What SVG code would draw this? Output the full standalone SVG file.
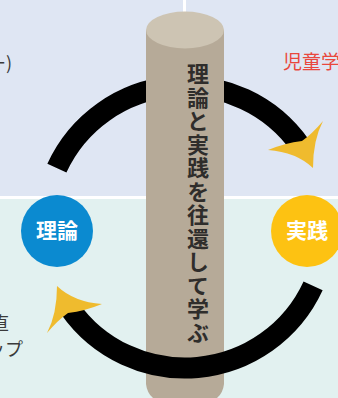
<svg xmlns="http://www.w3.org/2000/svg" width="338" height="398" viewBox="0 0 338 398">
<style>
.side{font-family:"Noto Sans CJK JP","Noto Sans",sans-serif;font-size:18px;fill:#3a3a3a}
.red{font-family:"Noto Sans CJK JP","Noto Sans",sans-serif;font-size:19px;fill:#e9473d}
.pt{font-family:"Noto Sans CJK JP","Noto Sans",sans-serif;font-size:22px;font-weight:bold;fill:#2f2d2b;writing-mode:vertical-rl;letter-spacing:1.5px}
.ct{font-family:"Noto Sans CJK JP","Noto Sans",sans-serif;font-size:21px;font-weight:bold;fill:#ffffff;text-anchor:middle}
.arc{fill:none;stroke:#000;stroke-width:21;stroke-linecap:butt}
.head{fill:#efbb2e}
</style>
<defs>
<clipPath id="outsidePillar">
<rect x="0" y="0" width="146" height="398"/>
<rect x="224" y="0" width="114" height="398"/>
</clipPath>
<path id="arrowhead" d="M313,168 Q313,140 323,121 Q312,134 302,141 Q285,143 268,150 Q296,152 313,168 Z"/>
</defs>
<g id="background">
<rect x="0" y="0" width="338" height="197" fill="#dfe6f3"/>
<rect x="0" y="196" width="338" height="3" fill="#ffffff"/>
<rect x="0" y="199" width="338" height="199" fill="#e2f1f0"/>
<rect x="183" y="0" width="3" height="20" fill="#ffffff"/>
<text class="side" x="12" y="70" text-anchor="end">ー)</text>
<text class="red" x="283" y="69">児童学</text>
<text class="side" x="9" y="330" text-anchor="end">直</text>
<text class="side" x="23" y="356" text-anchor="end">ップ</text>
</g>
<g id="connectors-back">
<path class="arc" clip-path="url(#outsidePillar)" d="M56.9,168.1 A141,141 0 0 1 300.5,146.1"/>
</g>
<g id="pillar">
<path d="M146,30 L146,384 Q147,393 153,398 L217,398 Q223,393 224,384 L224,30 Z" fill="#b6aa98"/>
<ellipse cx="185" cy="30" rx="39" ry="18.5" fill="#cdc4b3"/>
<text class="pt" x="198" y="63">理論と実践を往還して学ぶ</text>
</g>
<g id="connectors">
<path class="arc" d="M313.1,285.9 A141,141 0 0 1 69.5,307.9"/>
<use href="#arrowhead" class="head"/>
<use href="#arrowhead" class="head" transform="rotate(180 185 227)"/>
</g>
<g id="node-theory">
<circle cx="57" cy="231" r="36" fill="#0b8ad0"/>
<text class="ct" x="57" y="238">理論</text>
</g>
<g id="node-practice">
<circle cx="307" cy="231" r="36" fill="#fdc212"/>
<text class="ct" x="307" y="238">実践</text>
</g>
</svg>
